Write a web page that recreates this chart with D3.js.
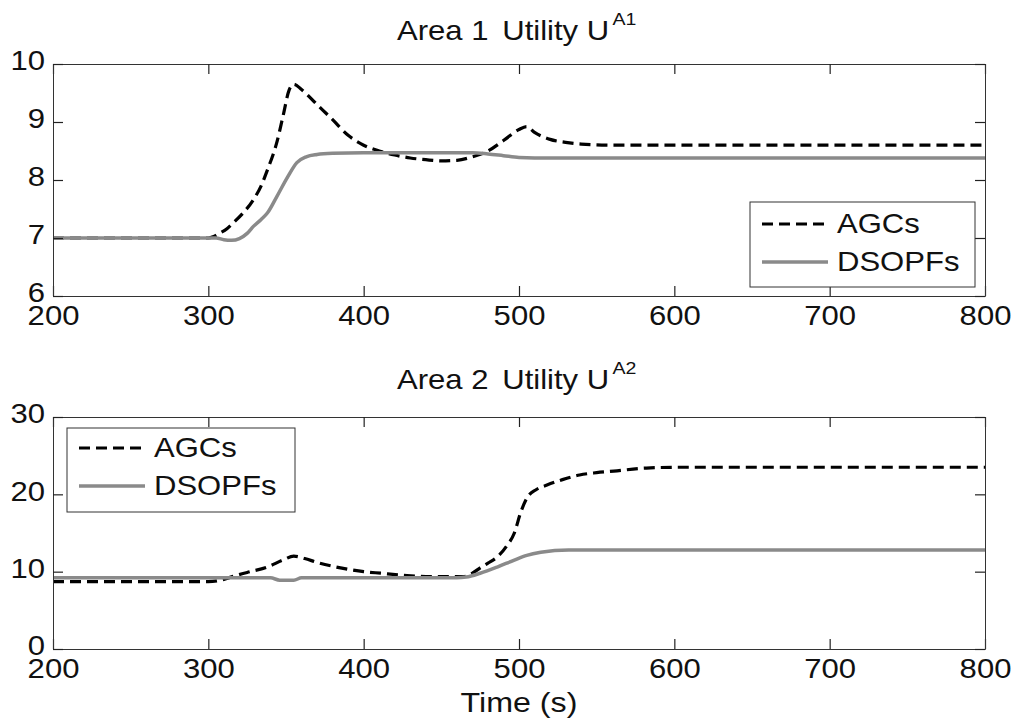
<!DOCTYPE html>
<html><head><meta charset="utf-8">
<script src="https://cdn.jsdelivr.net/npm/d3@7"></script>
<style>body{margin:0;background:#fff}</style>
</head><body>
<svg id="c" width="1020" height="723" xmlns="http://www.w3.org/2000/svg"></svg>
<script>
// ---------- data ----------
const xTicks = [200, 300, 400, 500, 600, 700, 800];
const yTicks1 = [6, 7, 8, 9, 10];
const yTicks2 = [0, 10, 20, 30];
const seriesNames = ["AGCs", "DSOPFs"];

// Area 1
const tAgc1 = [200, 250, 300, 303, 307, 312, 316, 322, 329, 334, 338, 344, 348, 352, 355, 360, 370, 380, 390, 400, 410, 420, 430, 440, 450, 460, 470, 480, 490, 500, 505, 510, 520, 530, 540, 560, 600, 700, 800];
const agc1  = [7.0, 7.0, 7.0, 7.02, 7.08, 7.16, 7.26, 7.42, 7.66, 7.9, 8.17, 8.64, 9.09, 9.55, 9.65, 9.56, 9.3, 9.04, 8.77, 8.6, 8.5, 8.43, 8.38, 8.35, 8.33, 8.34, 8.4, 8.5, 8.68, 8.87, 8.92, 8.82, 8.7, 8.65, 8.62, 8.6, 8.6, 8.6, 8.6];
const tDs1  = [200, 250, 300, 305, 310, 315, 320, 325, 329, 334, 338, 344, 351, 357, 363, 370, 380, 400, 440, 470, 480, 490, 500, 520, 600, 700, 800];
const ds1   = [7.0, 7.0, 7.0, 7.0, 6.97, 6.96, 6.99, 7.08, 7.2, 7.32, 7.43, 7.71, 8.05, 8.3, 8.4, 8.44, 8.46, 8.47, 8.47, 8.47, 8.45, 8.42, 8.39, 8.38, 8.38, 8.38, 8.38];

// Area 2
const tAgc2 = [200, 250, 300, 310, 316, 325, 338, 348, 355, 362, 370, 380, 390, 400, 411, 425, 443, 464, 470, 475, 480, 486, 492, 497, 501, 505, 511, 518, 528, 539, 550, 561, 582, 604, 700, 800];
const agc2  = [8.7, 8.7, 8.7, 9.0, 9.4, 9.9, 10.6, 11.5, 12.0, 11.7, 11.2, 10.7, 10.3, 10.0, 9.8, 9.55, 9.35, 9.35, 9.8, 10.5, 11.1, 11.9, 13.3, 15.0, 17.6, 19.5, 20.6, 21.2, 21.9, 22.5, 22.8, 23.0, 23.4, 23.5, 23.5, 23.5];
const tDs2  = [200, 250, 300, 340, 346, 355, 360, 400, 460, 466, 475, 486, 497, 505, 514, 532, 560, 600, 700, 800];
const ds2   = [9.2, 9.2, 9.2, 9.2, 8.9, 8.9, 9.2, 9.2, 9.2, 9.3, 9.8, 10.6, 11.5, 12.1, 12.5, 12.8, 12.8, 12.8, 12.8, 12.8];

// ---------- drawing ----------
const FONT = "'Liberation Sans', Arial, Helvetica, sans-serif";
const SX = 1.15;
const svg = d3.select("#c");
svg.append("rect").attr("width", 1020).attr("height", 723).attr("fill", "#fff");

const x = d3.scaleLinear().domain([200, 800]).range([53, 985]);

function styleAxis(g, showText, dy) {
  g.attr("font-family", FONT).attr("font-size", 27);
  g.select(".domain").attr("stroke", "#333").attr("stroke-width", 1);
  g.selectAll(".tick line").attr("stroke", "#222").attr("stroke-width", 1.2);
  g.selectAll(".tick text").attr("fill", "#111").attr("transform", `scale(${SX},1)`);
  if (dy) g.selectAll(".tick text").attr("dy", dy);
  if (!showText) g.selectAll(".tick text").remove();
}

function panel(p) {
  const y = d3.scaleLinear().domain(p.yDom).range([p.bottom, p.top]);
  const g = svg.append("g");

  const line = d3.line().x(d => x(d[0])).y(d => y(d[1])).curve(d3.curveMonotoneX);

  g.append("path").datum(d3.zip(p.tA, p.a)).attr("d", line)
    .attr("fill", "none").attr("stroke", "#000").attr("stroke-width", 3.2)
    .attr("stroke-dasharray", "11,6");
  g.append("path").datum(d3.zip(p.tD, p.d)).attr("d", line)
    .attr("fill", "none").attr("stroke", "#8a8a8a").attr("stroke-width", 3.5);

  g.append("g").attr("transform", `translate(0,${p.bottom})`)
    .call(d3.axisBottom(x).tickValues(xTicks).tickSize(-10).tickSizeOuter(0).tickPadding(10).tickFormat(d3.format("d")))
    .call(s => styleAxis(s, true));
  g.append("g").attr("transform", `translate(0,${p.top})`)
    .call(d3.axisTop(x).tickValues(xTicks).tickSize(-10).tickSizeOuter(0))
    .call(s => styleAxis(s, false));
  g.append("g").attr("transform", `translate(${x.range()[0]},0)`)
    .call(d3.axisLeft(y).tickValues(p.yTicks).tickSize(-10).tickSizeOuter(0).tickPadding(7).tickFormat(d3.format("d")))
    .call(s => styleAxis(s, true, "0.22em"));
  g.append("g").attr("transform", `translate(${x.range()[1]},0)`)
    .call(d3.axisRight(y).tickValues(p.yTicks).tickSize(-10).tickSizeOuter(0))
    .call(s => styleAxis(s, false));

  // title
  const tg = g.append("g").attr("transform", `translate(${p.titleX},${p.titleY}) scale(${SX},1)`);
  const tt = tg.append("text").attr("font-family", FONT).attr("font-size", 27).attr("fill", "#111");
  tt.append("tspan").text(p.title1);
  tt.append("tspan").attr("dx", 12).text("Utility U");
  tt.append("tspan").attr("dx", 3).attr("dy", -15).attr("font-size", 17).text(p.sup);

  // legend
  const L = p.leg;
  g.append("rect").attr("x", L.x).attr("y", L.y).attr("width", L.w).attr("height", L.h)
    .attr("fill", "#fff").attr("stroke", "#333").attr("stroke-width", 1);
  const rows = [
    { name: seriesNames[0], dash: "11,6", color: "#000", w: 3.2 },
    { name: seriesNames[1], dash: null, color: "#8a8a8a", w: 3.5 }
  ];
  rows.forEach((r, i) => {
    const by = L.y + L.row0 + i * L.rowGap;
    g.append("line").attr("x1", L.x + 12).attr("x2", L.x + 78).attr("y1", by - 9).attr("y2", by - 9)
      .attr("stroke", r.color).attr("stroke-width", r.w).attr("stroke-dasharray", r.dash);
    g.append("g").attr("transform", `translate(${L.x + 87},${by}) scale(${SX},1)`)
      .append("text").attr("font-family", FONT).attr("font-size", 27).attr("fill", "#111").text(r.name);
  });
}

panel({ top: 64, bottom: 296, yDom: [6, 10], yTicks: yTicks1,
  tA: tAgc1, a: agc1, tD: tDs1, d: ds1,
  title1: "Area 1", sup: "A1", titleX: 397, titleY: 40,
  leg: { x: 750, y: 202, w: 225, h: 85, row0: 31, rowGap: 38 } });

panel({ top: 417, bottom: 649, yDom: [0, 30], yTicks: yTicks2,
  tA: tAgc2, a: agc2, tD: tDs2, d: ds2,
  title1: "Area 2", sup: "A2", titleX: 397, titleY: 389,
  leg: { x: 67, y: 428, w: 228, h: 84, row0: 29, rowGap: 38 } });

svg.append("g").attr("transform", `translate(519,712) scale(${SX},1)`)
  .append("text").attr("text-anchor", "middle").attr("font-family", FONT).attr("font-size", 28)
  .attr("fill", "#111").text("Time (s)");
</script>
</body></html>
